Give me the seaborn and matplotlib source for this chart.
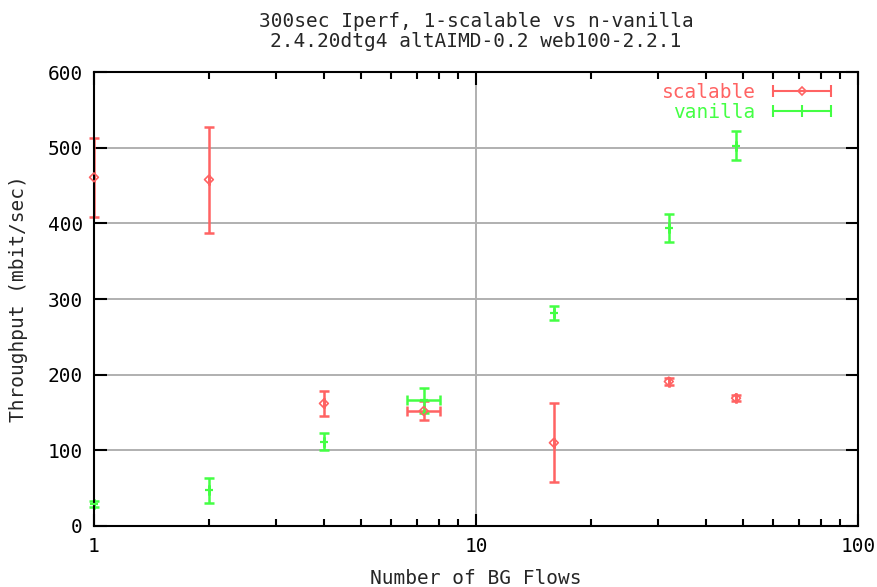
import numpy as np
import matplotlib
matplotlib.use('Agg')
import matplotlib.pyplot as plt
from matplotlib.lines import Line2D
from matplotlib.legend_handler import HandlerLine2D, HandlerTuple
import seaborn as sns

# scalable flow (1 flow vs n vanilla)
sc_x = [1, 2, 4, 7.3, 16, 32, 48]
sc_y = [461, 458, 162, 152, 110, 191, 169]
sc_lo = [409, 387, 145, 140, 58, 187, 165]
sc_hi = [513, 528, 178, 165, 162, 195, 173]

# vanilla flows
va_x = [1, 2, 4, 7.3, 16, 32, 48]
va_y = [29, 48, 111, 166, 282, 394, 503]
va_lo = [25, 31, 100, 150, 272, 375, 484]
va_hi = [33, 63, 123, 182, 291, 413, 522]

# x spread for the 7.3 point
xspread_lo = 6.6
xspread_hi = 8.05

red = '#ff6363'
green = '#44ff44'
fs = 14

sns.set_style('ticks')
plt.rcParams['font.family'] = ['DejaVu Sans Mono']

fig = plt.figure(figsize=(8.78, 5.87), dpi=100)
ax = fig.add_axes([0.107, 0.104, 0.870, 0.773])


def xerr_for(xs):
    lo = [x - xspread_lo if x == 7.3 else 0 for x in xs]
    hi = [xspread_hi - x if x == 7.3 else 0 for x in xs]
    return [lo, hi]


for xs, ys, lo, hi, c in [(sc_x, sc_y, sc_lo, sc_hi, red), (va_x, va_y, va_lo, va_hi, green)]:
    eb = ax.errorbar(xs, ys,
                     yerr=[np.array(ys) - np.array(lo), np.array(hi) - np.array(ys)],
                     xerr=xerr_for(xs), fmt='none', ecolor=c, elinewidth=1.8,
                     capsize=3.5, capthick=1.8)
    for part in eb.lines[1] + eb.lines[2]:
        part.set_clip_on(False)

# point markers: open diamonds for scalable, small dash for vanilla
sns.scatterplot(x=sc_x, y=sc_y, marker='D', s=20, facecolor='none',
                edgecolor=red, linewidth=1.2, legend=False, ax=ax, clip_on=False, zorder=3)
sns.scatterplot(x=va_x, y=va_y, marker='_', s=30, color=green,
                linewidth=1.6, legend=False, ax=ax, clip_on=False, zorder=3)

ax.set_xscale('log')
ax.set_xlim(1, 100)
ax.set_ylim(0, 600)
ax.set_yticks([0, 100, 200, 300, 400, 500, 600])
ax.set_xticks([1, 10, 100])
ax.set_xticklabels(['1', '10', '100'])

ax.grid(True, which='major', color='#b0b0b0', linewidth=1.4)
ax.set_axisbelow(True)
for s in ax.spines.values():
    s.set_linewidth(1.5)
    s.set_color('black')
ax.tick_params(which='both', direction='in', top=True, right=True,
               labelsize=fs, width=1.5, pad=8, colors='black')
ax.tick_params(which='major', length=9)
ax.tick_params(which='minor', length=5)

ax.set_xlabel('Number of BG Flows', fontsize=fs, labelpad=9)
ax.set_ylabel('Throughput (mbit/sec)', fontsize=fs, labelpad=14)
ax.set_title('300sec Iperf, 1-scalable vs n-vanilla\n2.4.20dtg4 altAIMD-0.2 web100-2.2.1',
             fontsize=fs, pad=18, linespacing=1.05)

# gnuplot-like legend samples: horizontal bar with end caps and centre mark
sc_caps = Line2D([], [], color=red, lw=1.5, marker='|', ms=9, mew=1.5)
sc_mid = Line2D([], [], color=red, ls='none', marker='D', ms=4, mfc='none', mew=1.2)
va_caps = Line2D([], [], color=green, lw=1.5, marker='|', ms=9, mew=1.5)
va_mid = Line2D([], [], color=green, ls='none', marker='|', ms=9, mew=1.5)
hm = {tuple: HandlerTuple(ndivide=1),
      sc_mid: HandlerLine2D(numpoints=1), va_mid: HandlerLine2D(numpoints=1)}
ax.legend([(sc_caps, sc_mid), (va_caps, va_mid)], ['scalable', 'vanilla'],
          handler_map=hm, numpoints=2, loc='upper right', bbox_to_anchor=(0.987, 1.0),
          frameon=False, fontsize=fs, labelcolor=[red, green], handlelength=3.6,
          markerfirst=False, handletextpad=0.6, borderaxespad=0.35,
          labelspacing=0.05, borderpad=0.2)

fig.savefig('out.png', dpi=100)
